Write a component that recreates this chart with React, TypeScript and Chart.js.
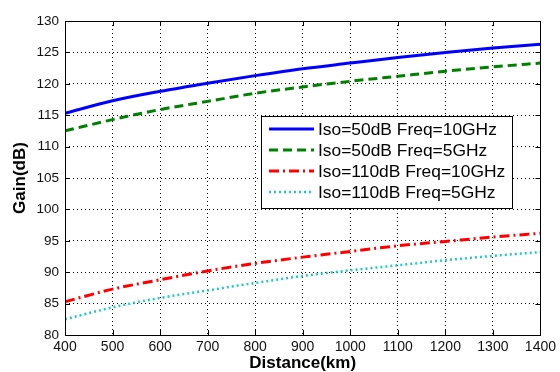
import React, { useEffect, useRef } from "react";
import { Chart, registerables } from "chart.js";

Chart.register(...registerables);

const FONT = "'Liberation Sans', Arial, Helvetica, sans-serif";

const distances = [400, 500, 600, 700, 800, 900, 1000, 1100, 1200, 1300, 1400];
const seriesLabels = [
  "Iso=50dB Freq=10GHz",
  "Iso=50dB Freq=5GHz",
  "Iso=110dB Freq=10GHz",
  "Iso=110dB Freq=5GHz",
];
const iso50f10 = [115.3, 117.3, 118.8, 120.1, 121.3, 122.4, 123.3, 124.2, 125.0, 125.7, 126.3];
const iso50f5 = [112.5, 114.3, 115.9, 117.2, 118.5, 119.5, 120.4, 121.2, 122.0, 122.7, 123.3];
const iso110f10 = [85.3, 87.3, 88.8, 90.2, 91.4, 92.4, 93.3, 94.2, 94.9, 95.6, 96.2];
const iso110f5 = [82.5, 84.4, 85.9, 87.1, 88.3, 89.4, 90.3, 91.1, 91.9, 92.6, 93.2];

const xTitle = "Distance(km)";
const yTitle = "Gain(dB)";
const xMin = 400, xMax = 1400, xStep = 100;
const yMin = 80, yMax = 130, yStep = 5;

const frameLegendPlugin = {
  id: "frameLegend",
  afterDraw(chart: any) {
    const { ctx, chartArea: a, scales } = chart;
    ctx.save();
    ctx.setLineDash([]);
    ctx.strokeStyle = "#000";
    ctx.lineWidth = 1;
    const tl = 5;
    scales.x.ticks.forEach((t: any) => {
      const px = Math.round(scales.x.getPixelForValue(t.value)) + 0.5;
      ctx.beginPath();
      ctx.moveTo(px, a.bottom);
      ctx.lineTo(px, a.bottom - tl);
      ctx.moveTo(px, a.top);
      ctx.lineTo(px, a.top + tl);
      ctx.stroke();
    });
    scales.y.ticks.forEach((t: any) => {
      const py = Math.round(scales.y.getPixelForValue(t.value)) + 0.5;
      ctx.beginPath();
      ctx.moveTo(a.left, py);
      ctx.lineTo(a.left + tl, py);
      ctx.moveTo(a.right, py);
      ctx.lineTo(a.right - tl, py);
      ctx.stroke();
    });
    ctx.strokeRect(Math.round(a.left) + 0.5, Math.round(a.top) + 0.5, Math.round(a.right - a.left), Math.round(a.bottom - a.top));

    // legend box
    const lx = 261, ly = 116, lw = 251, lh = 92;
    ctx.fillStyle = "#fff";
    ctx.fillRect(lx, ly, lw, lh);
    ctx.strokeStyle = "#000";
    ctx.lineWidth = 1;
    ctx.strokeRect(lx + 0.5, ly + 0.5, lw, lh);
    chart.data.datasets.forEach((ds: any, i: number) => {
      const y = ly + 13 + i * 21;
      ctx.save();
      ctx.strokeStyle = ds.borderColor;
      ctx.lineWidth = ds.borderWidth;
      ctx.lineCap = "butt";
      ctx.setLineDash(ds.borderDash || []);
      ctx.beginPath();
      ctx.moveTo(lx + 8, y);
      ctx.lineTo(lx + 53, y);
      ctx.stroke();
      ctx.restore();
      ctx.fillStyle = "#000";
      ctx.font = `17.4px ${FONT}`;
      ctx.textBaseline = "middle";
      ctx.textAlign = "left";
      ctx.fillText(ds.label, lx + 57, y + 1);
    });
    ctx.restore();
  },
};

export default function App() {
  const ref = useRef<HTMLCanvasElement | null>(null);

  useEffect(() => {
    document.body.style.margin = "0";
    const canvas = ref.current;
    if (!canvas) return;
    const mk = (vals: number[]) => distances.map((d, i) => ({ x: d, y: vals[i] }));
    const chart = new Chart(canvas, {
      type: "line",
      data: {
        datasets: [
          { label: seriesLabels[0], data: mk(iso50f10), borderColor: "#0000ff", borderWidth: 3, borderDash: [] },
          { label: seriesLabels[1], data: mk(iso50f5), borderColor: "#008000", borderWidth: 3, borderDash: [9, 5] },
          { label: seriesLabels[2], data: mk(iso110f10), borderColor: "#ff0000", borderWidth: 3, borderDash: [10, 4, 2, 4] },
          { label: seriesLabels[3], data: mk(iso110f5), borderColor: "#22c8c8", borderWidth: 2.5, borderDash: [2, 3] },
        ],
      },
      options: {
        responsive: false,
        animation: false,
        devicePixelRatio: 1,
        layout: { padding: { top: 21, right: 15, bottom: 0, left: 0 } },
        plugins: { legend: { display: false }, tooltip: { enabled: false } },
        elements: { point: { radius: 0 }, line: { tension: 0, cubicInterpolationMode: "monotone", borderCapStyle: "butt" } },
        scales: {
          x: {
            type: "linear",
            min: xMin,
            max: xMax,
            ticks: { stepSize: xStep, font: { family: FONT, size: 14 }, color: "#111", padding: 4, maxRotation: 0, autoSkip: false, callback: (v: any) => String(v) },
            grid: { color: "#000", lineWidth: 1, drawTicks: false },
            border: { display: false, dash: [1, 3] },
            title: { display: true, text: xTitle, color: "#000", font: { family: FONT, size: 17, weight: "bold", lineHeight: 1 }, padding: { top: 0, bottom: 0 } },
            afterFit: (s: any) => { s.height = 37; },
          },
          y: {
            type: "linear",
            min: yMin,
            max: yMax,
            ticks: { stepSize: yStep, font: { family: FONT, size: 13.5 }, color: "#111", padding: 6, callback: (v: any) => String(v) },
            grid: { color: "#000", lineWidth: 1, drawTicks: false },
            border: { display: false, dash: [1, 3] },
            title: { display: true, text: yTitle, color: "#000", font: { family: FONT, size: 17, weight: "bold", lineHeight: 1 }, padding: { top: 12, bottom: 0 } },
            afterFit: (s: any) => { s.width = 65; },
          },
        },
      },
      plugins: [frameLegendPlugin],
    } as any);
    return () => chart.destroy();
  }, []);

  return <canvas ref={ref} width={560} height={372} style={{ display: "block" }} />;
}
